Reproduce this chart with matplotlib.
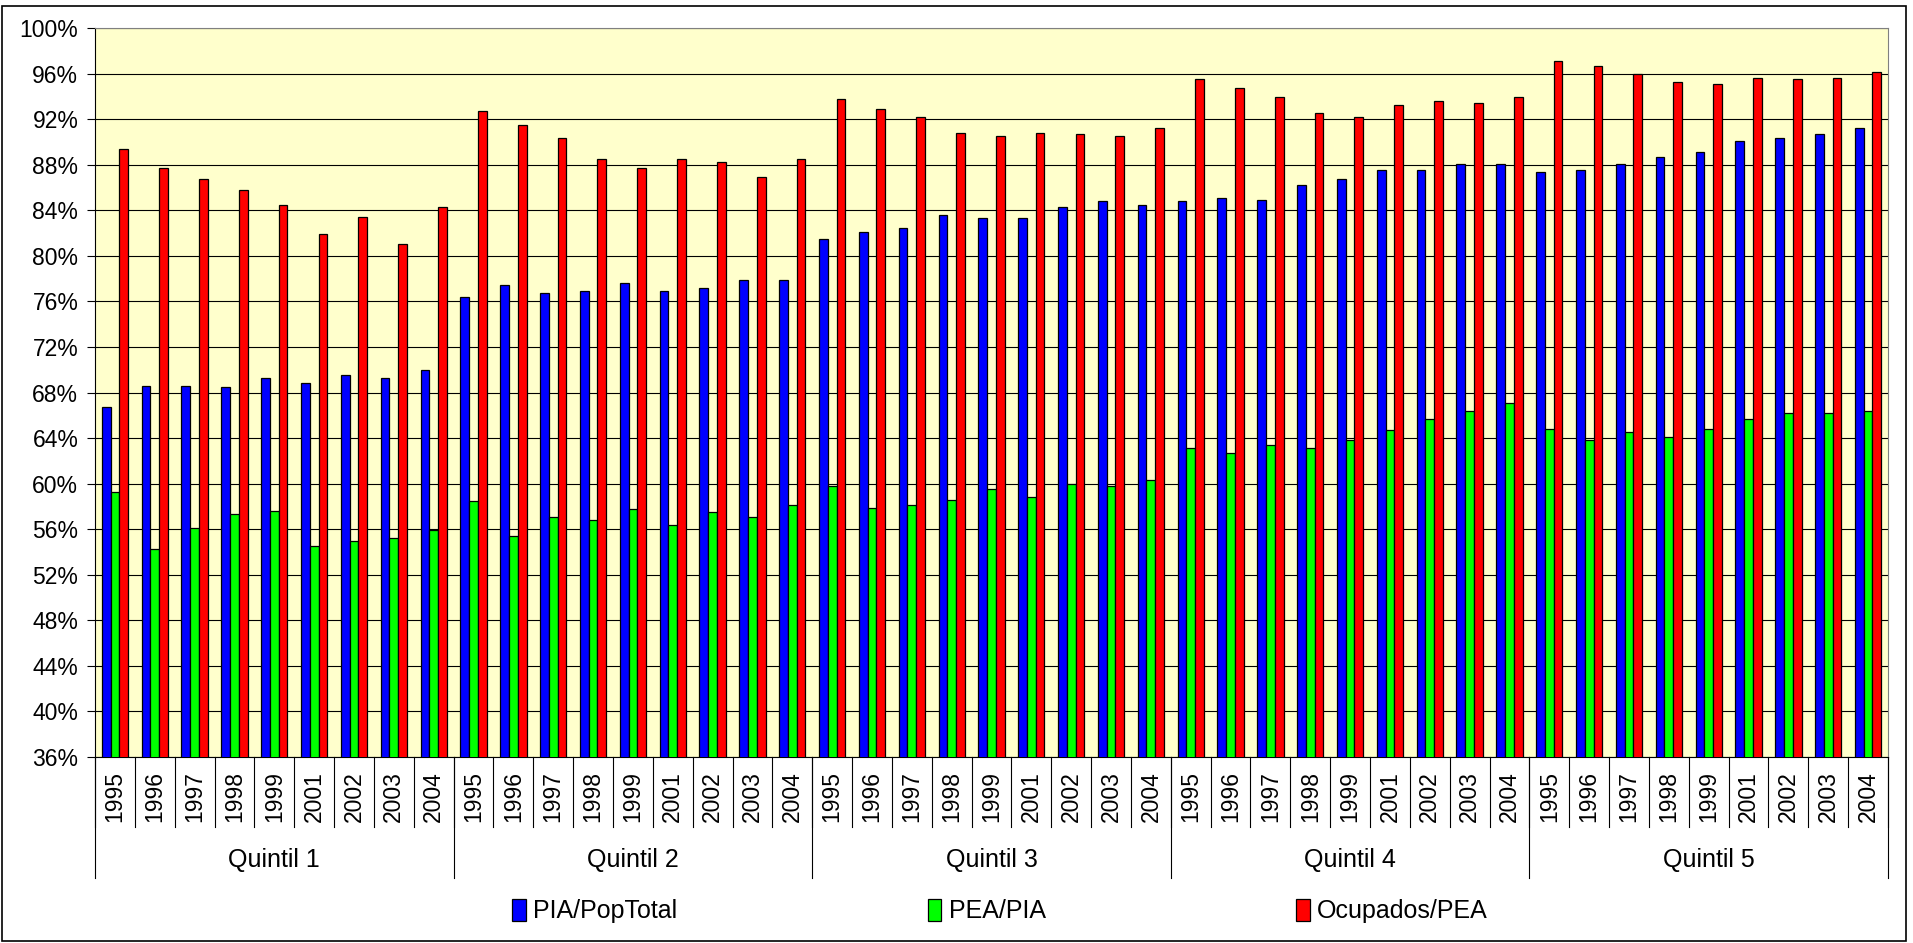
import numpy as np
import matplotlib
matplotlib.use('Agg')
import matplotlib.pyplot as plt
from matplotlib.ticker import PercentFormatter, MultipleLocator
from matplotlib.patches import Rectangle, Patch

plt.rcParams['font.family'] = ['Liberation Sans', 'DejaVu Sans']

## Data (values in %)

quintiles = ['Quintil 1', 'Quintil 2', 'Quintil 3', 'Quintil 4', 'Quintil 5']
years = ['1995', '1996', '1997', '1998', '1999', '2001', '2002', '2003', '2004']
series_names = ['PIA/PopTotal', 'PEA/PIA', 'Ocupados/PEA']

pia_poptotal = [66.7, 68.6, 68.6, 68.5, 69.3, 68.8, 69.5, 69.3, 70.0,
                76.4, 77.4, 76.7, 76.9, 77.6, 76.9, 77.2, 77.9, 77.9,
                81.5, 82.1, 82.4, 83.6, 83.3, 83.3, 84.3, 84.8, 84.5,
                84.8, 85.1, 84.9, 86.2, 86.7, 87.5, 87.5, 88.1, 88.1,
                87.4, 87.5, 88.1, 88.7, 89.1, 90.1, 90.3, 90.7, 91.2]
pea_pia = [59.3, 54.3, 56.1, 57.3, 57.6, 54.5, 55.0, 55.2, 55.9,
           58.5, 55.4, 57.1, 56.8, 57.8, 56.4, 57.5, 57.1, 58.1,
           59.8, 57.9, 58.1, 58.6, 59.5, 58.8, 60.0, 59.8, 60.3,
           63.1, 62.7, 63.4, 63.1, 63.8, 64.7, 65.7, 66.4, 67.1,
           64.8, 63.8, 64.5, 64.1, 64.8, 65.7, 66.2, 66.2, 66.4]
ocupados_pea = [89.4, 87.7, 86.7, 85.8, 84.5, 81.9, 83.4, 81.0, 84.3,
                92.7, 91.5, 90.3, 88.5, 87.7, 88.5, 88.2, 86.9, 88.5,
                93.8, 92.9, 92.2, 90.8, 90.5, 90.8, 90.7, 90.5, 91.2,
                95.5, 94.7, 93.9, 92.5, 92.2, 93.2, 93.6, 93.4, 93.9,
                97.1, 96.7, 96.0, 95.3, 95.1, 95.6, 95.5, 95.6, 96.1]

colors = ['#0000FF', '#00FF00', '#FF0000']

## Plotting

fig = plt.figure(figsize=(19.13, 9.43), dpi=100)
ax = fig.add_axes([95 / 1913, 1 - 757 / 943, (1888 - 95) / 1913, (757 - 28) / 943])
ax.set_facecolor('#FFFFCC')

n_cat = len(quintiles) * len(years)
x = np.arange(n_cat)
w = 0.22
for k, (vals, c) in enumerate(zip([pia_poptotal, pea_pia, ocupados_pea], colors)):
    ax.bar(x + (k - 1) * w, vals, width=w, color=c, edgecolor='black',
           linewidth=0.9, zorder=3)

ax.set_ylim(36, 100)
ax.set_xlim(-0.5, n_cat - 0.5)
ax.yaxis.set_major_locator(MultipleLocator(4))
ax.yaxis.set_major_formatter(PercentFormatter(decimals=0))
ax.grid(axis='y', color='black', linewidth=0.8, zorder=1)
ax.tick_params(axis='y', labelsize=16.5, length=6, width=0.8, pad=6)

## Two-level category axis

year_labels = years * len(quintiles)
ax.set_xticks(x)
ax.set_xticklabels(year_labels, rotation=90, fontsize=16.5)
ax.tick_params(axis='x', length=0, pad=10)

trans = ax.get_xaxis_transform()
for b in np.arange(n_cat + 1) - 0.5:
    ax.plot([b, b], [0, -0.096], color='black', linewidth=0.8,
            transform=trans, clip_on=False)
for g in range(len(quintiles) + 1):
    b = g * len(years) - 0.5
    ax.plot([b, b], [0, -0.166], color='black', linewidth=0.8,
            transform=trans, clip_on=False)
for g, name in enumerate(quintiles):
    ax.text(g * len(years) + (len(years) - 1) / 2, -0.141, name,
            transform=trans, ha='center', va='center', fontsize=18)

for side in ['top', 'right']:
    ax.spines[side].set_color('#808080')
ax.spines['left'].set_color('black')
ax.spines['bottom'].set_color('black')

## Legend and outer frame

handles = [Patch(facecolor=c, edgecolor='black', linewidth=0.9) for c in colors]
fig.legend(handles, series_names, loc='center', bbox_to_anchor=(1000 / 1913, 1 - 911 / 943),
           ncol=3, frameon=False, fontsize=18, handlelength=0.55, handleheight=1.0,
           handletextpad=0.3, columnspacing=10)

fig.patches.append(Rectangle((2 / 1913, 2 / 943), 1 - 9 / 1913, 1 - 8 / 943,
                             transform=fig.transFigure, fill=False,
                             edgecolor='black', linewidth=1.2))

fig.savefig('out.png', dpi=100)
